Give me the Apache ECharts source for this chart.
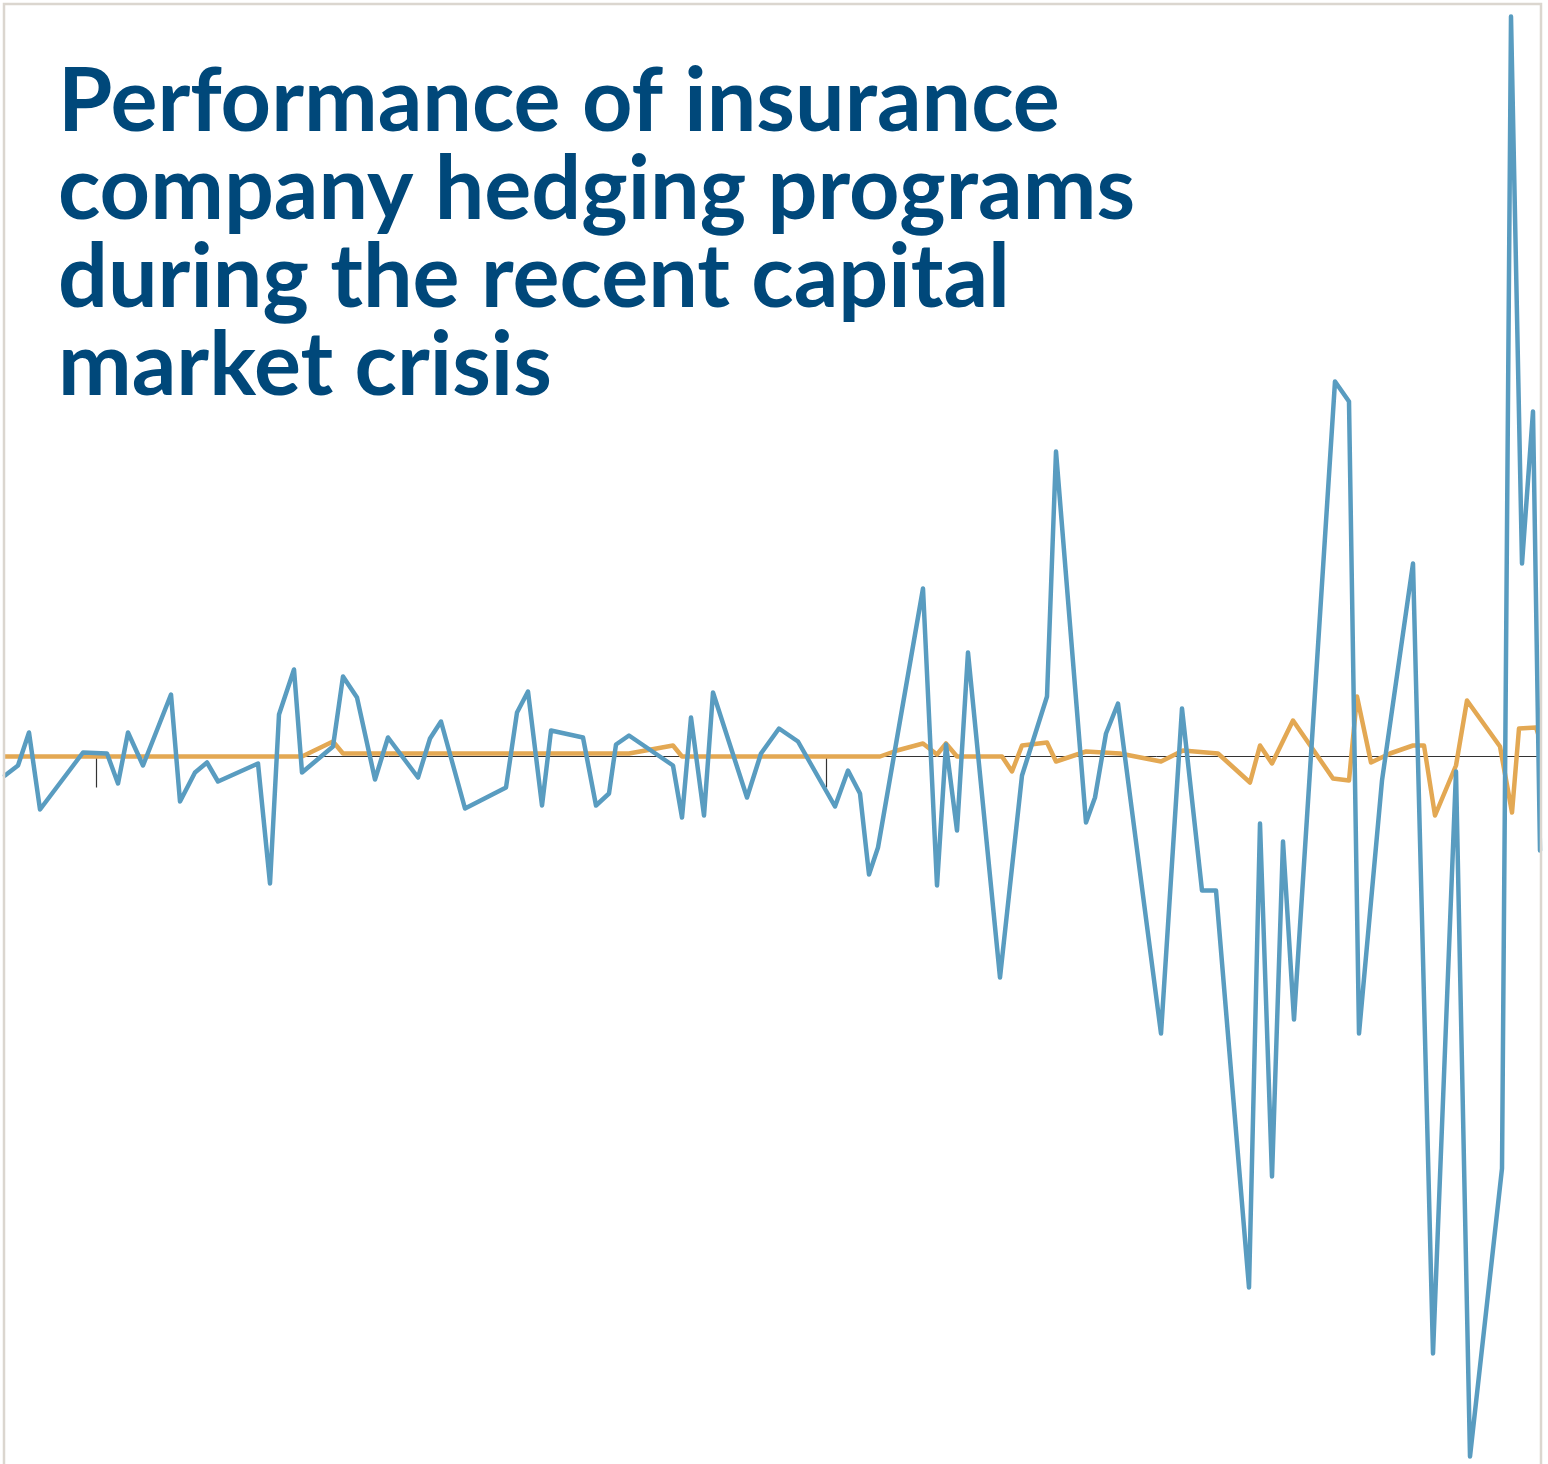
<!DOCTYPE html>
<html>
<head>
<meta charset="utf-8">
<script src="https://cdn.jsdelivr.net/npm/echarts@6/dist/echarts.min.js"></script>
<style>
html,body{margin:0;padding:0;background:#fff;}
#chart{width:1548px;height:1464px;}
</style>
</head>
<body>
<div id="chart"></div>
<script>
// Title lines
const titleLines = [
  "Performance of insurance",
  "company hedging programs",
  "during the recent capital",
  "market crisis"
];

// x: day offsets from the start of the period; tick marks at two year starts
const yearTicks = [91, 821];

// Hedged-liability change (blue series)
const blueDays = [0,13,24,35,78,102,113,123,138,166,175,190,202,213,253,265,274,289,297,328,338,352,370,383,413,425,436,460,501,512,523,537,546,578,591,604,611,624,668,677,686,699,708,742,756,774,793,830,843,855,864,873,918,932,941,952,963,995,1017,1042,1051,1081,1090,1101,1113,1156,1177,1197,1211,1244,1255,1267,1278,1289,1330,1344,1354,1377,1408,1428,1451,1465,1497,1506,1517,1528,1535];
const blueValues = [-1.9,-0.9,2.4,-5.3,0.4,0.3,-2.7,2.4,-0.9,6.2,-4.5,-1.6,-0.6,-2.5,-0.7,-12.7,4.2,8.7,-1.6,1.0,8.0,5.9,-2.3,1.9,-2.1,1.8,3.5,-5.2,-3.1,4.4,6.5,-4.9,2.6,1.9,-4.9,-3.7,1.2,2.1,-0.9,-6.1,3.9,-5.9,6.4,-4.1,0.3,2.8,1.5,-5.0,-1.4,-3.7,-11.8,-9.1,16.8,-12.9,1.2,-7.4,10.4,-22.1,-1.9,6.0,30.5,-6.6,-4.1,2.3,5.3,-27.7,4.8,-13.4,-13.4,-53.1,-6.7,-42.0,-8.5,-26.3,37.5,35.5,-27.7,-2.4,19.3,-59.7,-1.5,-70.0,-41.2,74.0,19.3,34.5,-9.4];

// Hedge program result (orange series)
const orangeDays = [0,297,328,338,624,668,677,875,892,918,932,941,952,997,1007,1017,1042,1051,1081,1115,1156,1178,1213,1245,1255,1267,1288,1328,1344,1352,1366,1385,1408,1419,1430,1451,1462,1495,1507,1514,1531,1535];
const orangeValues = [0,0,1.5,0.3,0.3,1.1,0,0,0.6,1.3,0.2,1.3,0,0,-1.5,1.1,1.4,-0.5,0.5,0.3,-0.5,0.6,0.3,-2.6,1.1,-0.7,3.6,-2.2,-2.4,6.0,-0.6,0.3,1.1,1.1,-5.9,-0.9,5.6,1.0,-5.6,2.8,2.9,1.7];

const blueData = blueDays.map((d, i) => [d, blueValues[i]]);
const orangeData = orangeDays.map((d, i) => [d, orangeValues[i]]);

const chart = echarts.init(document.getElementById('chart'), null, {renderer: 'canvas'});
chart.setOption({
  backgroundColor: '#ffffff',
  animation: false,
  title: {
    text: titleLines.join('\n'),
    left: 53,
    top: 54,
    textStyle: {
      fontFamily: 'Lato',
      fontWeight: 700,
      fontSize: 88,
      lineHeight: 88,
      color: '#00487a'
    }
  },
  graphic: [{
    type: 'rect',
    shape: {x: 4, y: 4, width: 1537, height: 1480},
    style: {fill: null, stroke: '#dbd6cf', lineWidth: 2.5},
    z: 100
  }],
  grid: {left: 5, right: 8, top: 4, bottom: 0, containLabel: false},
  xAxis: {
    type: 'value',
    min: 0,
    max: 1535,
    splitLine: {show: false},
    axisLine: {show: true, onZero: true, lineStyle: {color: '#333333', width: 1}},
    axisTick: {show: true, customValues: yearTicks, length: 31, inside: false, lineStyle: {color: '#333333', width: 1.2}},
    axisLabel: {show: false}
  },
  yAxis: {
    type: 'value',
    min: -70.75,
    max: 75.25,
    splitLine: {show: false},
    axisLine: {show: false},
    axisTick: {show: false},
    axisLabel: {show: false}
  },
  series: [
    {
      name: 'Hedge result',
      type: 'line',
      data: orangeData,
      symbol: 'none',
      lineStyle: {color: '#e3a853', width: 4.5, join: 'round'},
      z: 2
    },
    {
      name: 'Liability change',
      type: 'line',
      data: blueData,
      symbol: 'none',
      lineStyle: {color: '#599cc0', width: 4.5, join: 'round', cap: 'round'},
      z: 3
    }
  ]
});
</script>
</body>
</html>
